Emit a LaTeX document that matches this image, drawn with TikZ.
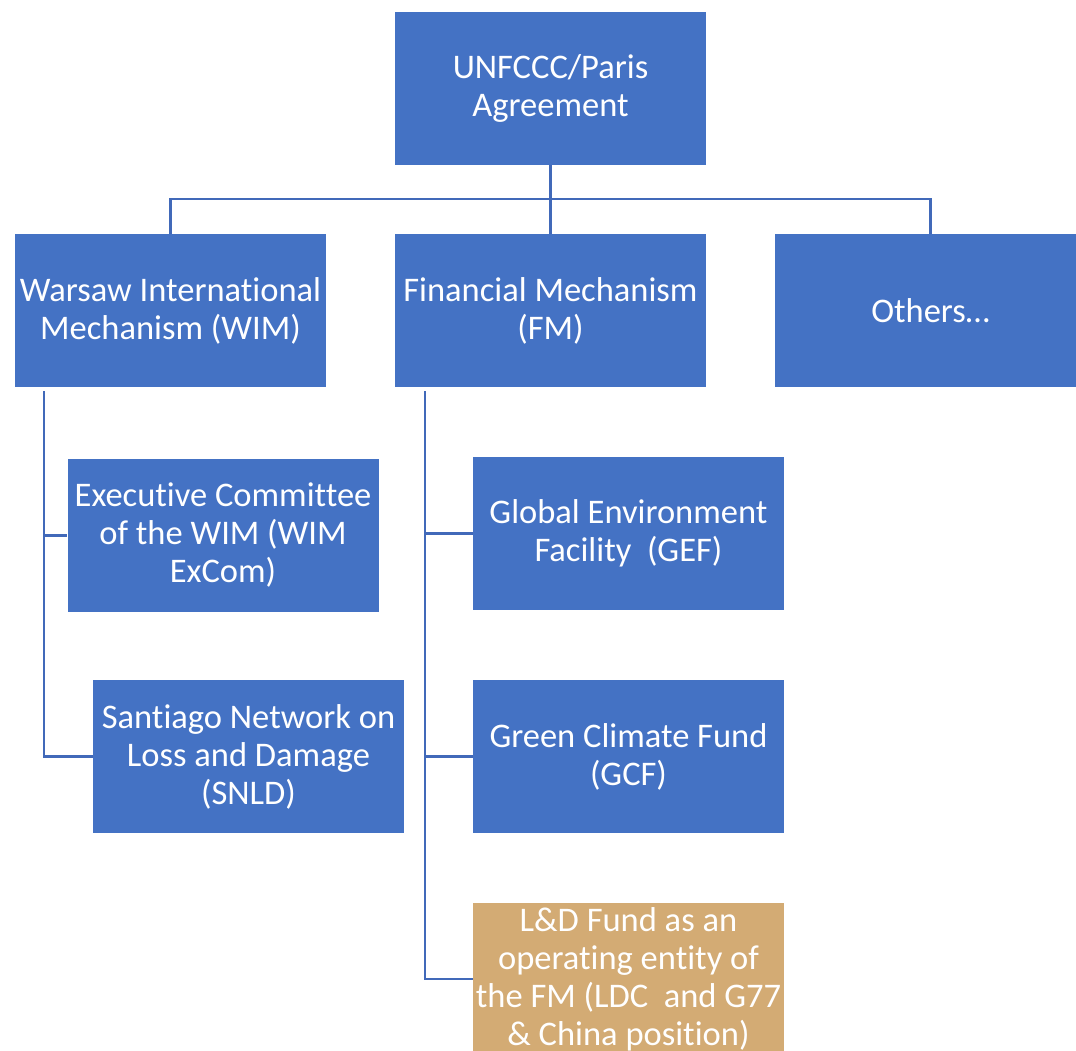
\documentclass[tikz,border=0pt]{standalone}
\usepackage{fontspec}
\setmainfont[Ligatures=NoCommon]{Carlito}
\definecolor{boxblue}{HTML}{4472C4}
\definecolor{linkblue}{HTML}{4169B9}
\definecolor{boxtan}{HTML}{D3AB74}
\begin{document}
\begin{tikzpicture}[x=1pt,y=-1pt,
  orgbox/.style={fill=boxblue, draw=none, text=white, minimum width=311pt, minimum height=153pt,
    inner sep=0pt, align=center, font=\fontsize{34.5}{38}\selectfont},
  tanbox/.style={orgbox, fill=boxtan},
  link/.style={draw=linkblue, line width=2.7pt}]
\useasboundingbox (0,0) rectangle (1076,1051);
\clip (0,0) rectangle (1076,1051);
\node[orgbox] (top) at (550.5,88.5) {UNFCCC/Paris\\Agreement};
\node[orgbox] (wim) at (170.5,310.5) {Warsaw International\\Mechanism (WIM)};
\node[orgbox] (fm) at (550.5,310.5) {Financial Mechanism\\(FM)};
\node[orgbox] (oth) at (930.5,310.5) {Others\ldots};
\node[orgbox] (excom) at (223,535.5) {Executive Committee\\of the WIM (WIM\\ExCom)};
\node[orgbox] (snld) at (248.5,756.5) {Santiago Network on\\Loss and Damage\\(SNLD)};
\node[orgbox] (gef) at (628.5,533.5) {Global Environment\\Facility~~(GEF)};
\node[orgbox] (gcf) at (628.5,756.5) {Green Climate Fund\\(GCF)};
\node[tanbox] (ldf) at (628.5,979) {L\&D Fund as an\\operating entity of\\the FM (LDC~~and G77\\\& China position)};
\coordinate (bus) at (550.5,199);
\coordinate (w0) at (44,391);
\coordinate (f0) at (425,391);
\draw[link] (top.south) -- (fm.north);
\draw[link] (wim.north) |- (bus) -| (oth.north);
\draw[link] (w0) |- (excom.west);
\draw[link] (w0) |- (snld.west);
\draw[link] (f0) |- (gef.west);
\draw[link] (f0) |- (gcf.west);
\draw[link] (f0) |- (ldf.west);
\end{tikzpicture}
\end{document}
